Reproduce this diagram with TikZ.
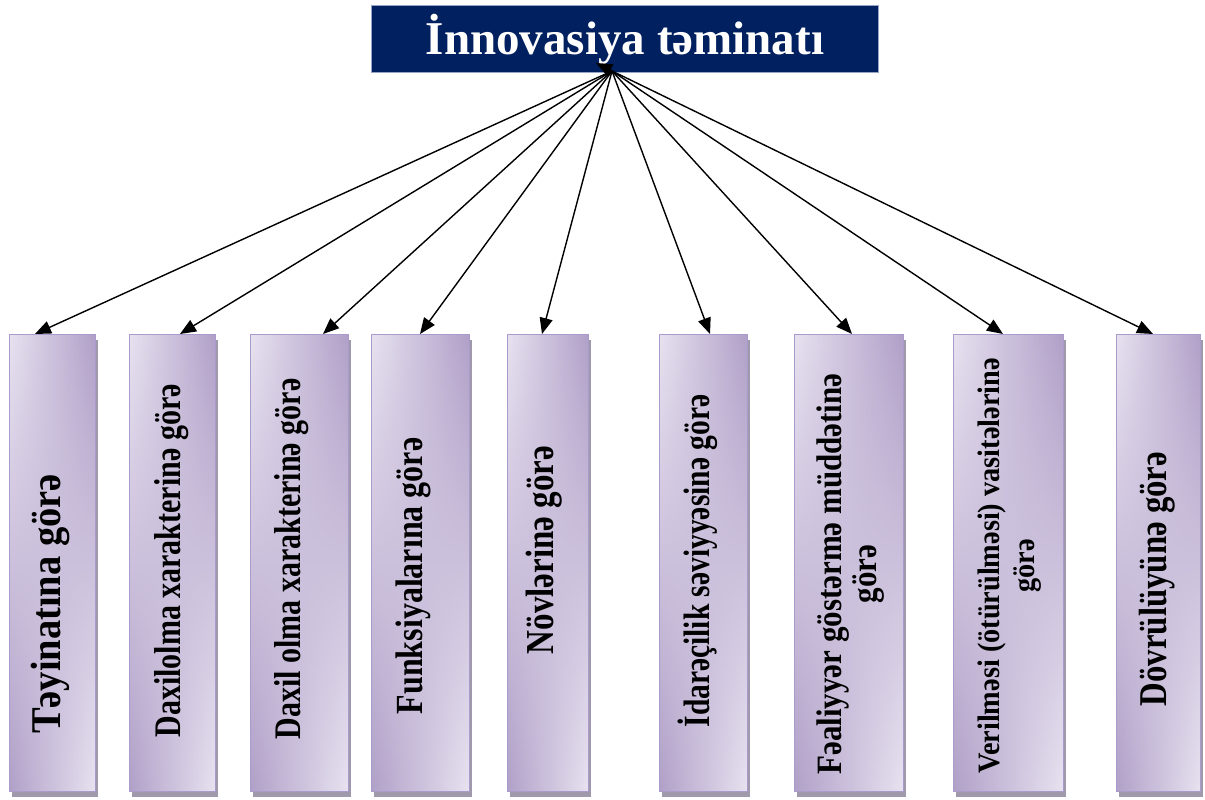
\documentclass[tikz,border=0pt]{standalone}
\usepackage{fontspec}
\usepackage{graphicx}
\setmainfont{Liberation Serif}
\usetikzlibrary{arrows.meta,fadings}
\definecolor{navy}{RGB}{0,32,96}
\definecolor{navyborder}{RGB}{150,165,195}
\definecolor{plight}{RGB}{232,226,240}
\definecolor{pdark}{RGB}{176,160,200}
\definecolor{pborder}{RGB}{170,155,205}
\definecolor{shadowc}{RGB}{160,153,172}
\tikzfading[name=fadeup, top color=transparent!100, bottom color=transparent!0]
\tikzset{
  arr/.style={line width=1.4pt, -{Triangle[length=16pt,width=13pt]}},
  lbl/.style={rotate=90, align=center, inner sep=0pt, text=black},
  boxframe/.style={draw=pborder, line width=1.2pt, inner sep=0pt, anchor=north west, minimum height=457pt},
}
\newcommand\catbox[4]{%
  \fill[shadowc] (#2+3,340) rectangle (#2+#3+3,797);
  \shade[left color=plight, right color=pdark] (#2,334) rectangle (#2+#3,791);
  \shade[path fading=fadeup, left color=pdark, right color=plight] (#2,334) rectangle (#2+#3,791);
  \node[boxframe, minimum width=#3pt] (#1) at (#2,334) {};
}
\newcommand\stretched[2]{\scalebox{1}[#1]{\begin{tabular}{@{}c@{}}#2\end{tabular}}}
\begin{document}
\begin{tikzpicture}[x=1pt,y=-1pt]
\useasboundingbox (0,0) rectangle (1205,800);
\node[fill=navy, draw=navyborder, line width=1pt, anchor=north west, minimum width=507pt, minimum height=67pt, inner sep=0pt,
      text=white, font=\bfseries\fontsize{47}{50}\selectfont] (title) at (371,5) {İnnovasiya təminatı};
\coordinate (hub) at (612,71);
\coordinate (stub) at (596,63);

\catbox{b1}{9}{86}{}
\catbox{b2}{129}{86}{}
\catbox{b3}{250}{98}{}
\catbox{b4}{371}{98}{}
\catbox{b5}{507}{81}{}
\catbox{b6}{659}{88}{}
\catbox{b7}{794}{109}{}
\catbox{b8}{953}{110}{}
\catbox{b9}{1116}{84}{}

\node[lbl, font=\bfseries\fontsize{38.5}{40}\selectfont] (t1) at (52,604) {\stretched{1.1}{Təyinatına görə}};
\node[lbl, font=\bfseries\fontsize{30}{34}\selectfont] (t2) at (172,561) {\stretched{1.25}{Daxilolma xarakterinə görə}};
\node[lbl, font=\bfseries\fontsize{30}{34}\selectfont] (t3) at (292,559) {\stretched{1.25}{Daxil olma xarakterinə görə}};
\node[lbl, font=\bfseries\fontsize{32}{36}\selectfont] (t4) at (414,576) {\stretched{1.2}{Funksiyalarına görə}};
\node[lbl, font=\bfseries\fontsize{33}{36}\selectfont] (t5) at (545,550) {\stretched{1.2}{Növlərinə görə}};
\node[lbl, font=\bfseries\fontsize{29.5}{34}\selectfont] (t6) at (700,561) {\stretched{1.25}{İdarəçilik səviyyəsinə görə}};
\node[lbl, font=\bfseries\fontsize{31}{30}\selectfont] (t7) at (852,574) {\stretched{1.15}{Fəaliyyər göstərmə müddətinə\\görə}};
\node[lbl, font=\bfseries\fontsize{28.3}{32}\selectfont] (t8) at (1010,566) {\stretched{1.1}{Verilməsi (ötürülməsi) vasitələrinə\\görə}};
\node[lbl, font=\bfseries\fontsize{32.8}{36}\selectfont] (t9) at (1158,579) {\stretched{1.2}{Dövrülüyünə görə}};

\draw[arr] (hub) -- ([xshift=26pt]b1.north west);
\draw[arr] (hub) -- ([xshift=51pt]b2.north west);
\draw[arr] (hub) -- ([xshift=73pt]b3.north west);
\draw[arr] (hub) -- ([xshift=49pt]b4.north west);
\draw[arr] (hub) -- ([xshift=35pt]b5.north west);
\draw[arr] (hub) -- ([xshift=51pt]b6.north west);
\draw[arr] (hub) -- ([xshift=58pt]b7.north west);
\draw[arr] (hub) -- ([xshift=50pt]b8.north west);
\draw[arr] (hub) -- ([xshift=37pt]b9.north west);
\draw[arr] (hub) -- (stub);
\end{tikzpicture}
\end{document}
